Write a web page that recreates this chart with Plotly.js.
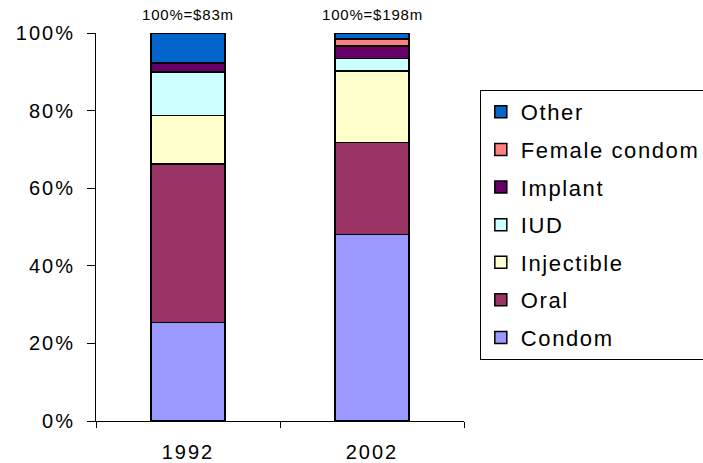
<!DOCTYPE html>
<html>
<head>
<meta charset="utf-8">
<script src="https://cdn.plot.ly/plotly-3.0.1.min.js"></script>
<style>
html,body{margin:0;padding:0;background:#fff}
#chart{width:703px;height:463px}
svg text{letter-spacing:2px}
svg text.legendtext{letter-spacing:1.6px}
svg text.annotation-text{letter-spacing:0.8px}
</style>
</head>
<body>
<div id="chart"></div>
<script>
var years = ["1992", "2002"];
var totals = ["100%=$83m", "100%=$198m"];
var condom = [0.254, 0.481];
var oral = [0.409, 0.237];
var injectible = [0.125, 0.184];
var iud = [0.111, 0.032];
var implant = [0.024, 0.032];
var femaleCondom = [0.0, 0.018];
var other = [0.077, 0.016];

var series = [
  {name: "Condom", y: condom, color: "#9999FF"},
  {name: "Oral", y: oral, color: "#993366"},
  {name: "Injectible", y: injectible, color: "#FFFFCC"},
  {name: "IUD", y: iud, color: "#CCFFFF"},
  {name: "Implant", y: implant, color: "#660066"},
  {name: "Female condom", y: femaleCondom, color: "#FF8080"},
  {name: "Other", y: other, color: "#0066CC"}
];

var traces = series.map(function (s, i) {
  return {
    type: "bar",
    name: s.name,
    x: years,
    y: s.y,
    width: 0.4,
    legendgroup: s.name,
    legendrank: series.length - i,
    marker: {color: s.color, line: {color: "#000", width: 1.5}},
    hoverinfo: "name+y"
  };
});

var annotations = years.map(function (yr, i) {
  return {
    x: i, y: 1, xref: "x", yref: "paper",
    text: totals[i], showarrow: false,
    yanchor: "bottom", yshift: 8,
    font: {family: "Liberation Sans, Arial, sans-serif", size: 15, color: "#000"}
  };
});

var layout = {
  width: 703, height: 463,
  margin: {l: 96, r: 239, t: 33, b: 42, autoexpand: false},
  paper_bgcolor: "#fff", plot_bgcolor: "#fff",
  barmode: "stack",
  showlegend: true,
  font: {family: "Liberation Sans, Arial, sans-serif", size: 20, color: "#000"},
  xaxis: {
    type: "category", range: [-0.5, 1.5],
    showline: true, linecolor: "#000", linewidth: 1,
    ticks: "outside", tickson: "boundaries", ticklen: 6, tickcolor: "#000",
    ticklabelstandoff: 13,
    showgrid: false, zeroline: false,
    tickfont: {size: 20}
  },
  yaxis: {
    range: [0, 1], tickvals: [0, 0.2, 0.4, 0.6, 0.8, 1.0], tickformat: ".0%",
    showline: true, linecolor: "#000", linewidth: 1,
    ticks: "outside", ticklen: 8, tickcolor: "#000",
    ticklabelstandoff: 8,
    showgrid: false, zeroline: false,
    tickfont: {size: 20}
  },
  legend: {
    x: 1.043, y: 0.853, xanchor: "left", yanchor: "top",
    traceorder: "grouped", tracegroupgap: 6,
    bordercolor: "#000", borderwidth: 1,
    font: {size: 22, color: "#000"},
    bgcolor: "#fff"
  },
  annotations: annotations
};

Plotly.newPlot("chart", traces, layout, {displayModeBar: false, staticPlot: true});
</script>
</body>
</html>
